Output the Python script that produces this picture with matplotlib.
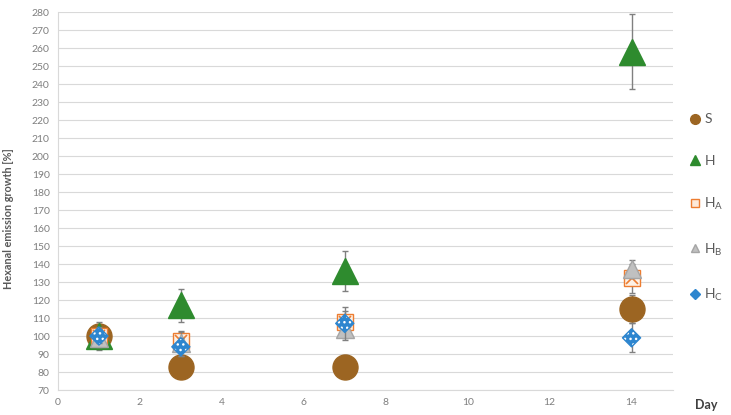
import matplotlib
import matplotlib.pyplot as plt
from matplotlib.lines import Line2D

matplotlib.use("agg")
plt.rcParams["font.family"] = ["Lato", "DejaVu Sans"]
plt.rcParams["hatch.linewidth"] = 1.0

days = [1, 3, 7, 14]
s_vals = [100, 83, 83, 115]
s_err = [3, 2, 6.5, 8]
h_vals = [100, 117, 136, 258]
h_err = [8, 9, 11, 21]
ha_vals = [100, 97.5, 108, 132]
ha_err = [5, 5, 6, 8]
hb_vals = [99, 96, 104, 137]
hb_err = [5, 7, 5, 5]
hc_vals = [100, 94, 107, 99]
hc_err = [4, 5, 9, 8]

BROWN = "#9c6522"
GREEN = "#2e8b2e"
ORANGE = "#ed7d31"
GRAY = "#a5a5a5"
BLUE = "#2e86cf"
ERR = "#808080"

fig = plt.figure(figsize=(7.31, 4.15), dpi=100)
ax = fig.add_axes([0.0793, 0.0602, 0.8407, 0.9108])


def errs(vals, err, z):
    ax.errorbar(days, vals, yerr=err, fmt="none", ecolor=ERR, elinewidth=1,
                capsize=2, capthick=1, zorder=z)


# S
errs(s_vals, s_err, 2)
ax.plot(days, s_vals, "o", ms=18, color=BROWN, mec=BROWN, ls="none", zorder=3)
# H
errs(h_vals, h_err, 4)
ax.plot(days, h_vals, "^", ms=19, color=GREEN, mec=GREEN, ls="none", zorder=5)
# H_A  (square with a cross pattern)
errs(ha_vals, ha_err, 6)
ax.plot(days, ha_vals, "s", ms=11, mfc="#fdf1e6", mec=ORANGE, mew=1, ls="none", zorder=7)
ax.plot(days, ha_vals, "x", ms=9, mec=ORANGE, mew=1.2, ls="none", zorder=7.5)
# H_B
errs(hb_vals, hb_err, 8)
ax.plot(days, hb_vals, "^", ms=13, color="#c0c0c0", mec=GRAY, ls="none", zorder=9)
# H_C  (diamond with white dots)
errs(hc_vals, hc_err, 10)
ax.scatter(days, hc_vals, marker="D", s=85, facecolor=BLUE, edgecolor="white",
           hatch="...", linewidth=0, zorder=11)
ax.scatter(days, hc_vals, marker="D", s=85, facecolor="none", edgecolor=BLUE,
           linewidth=1, zorder=12)

ax.set_xlim(0, 15)
ax.set_ylim(70, 280)
ax.set_xticks(range(0, 15, 2))
ax.set_yticks(range(70, 281, 10))
ax.tick_params(length=0, labelsize=7.5, labelcolor="#7f7f7f", pad=6)
ax.grid(axis="y", color="#d9d9d9", lw=0.8)
ax.set_axisbelow(True)
for side in ["top", "right"]:
    ax.spines[side].set_visible(False)
ax.spines["left"].set_color("#d9d9d9")
ax.spines["bottom"].set_color("#d9d9d9")

ax.set_ylabel("Hexanal emission growth [%]", fontsize=7.8, fontweight="bold",
              color="#595959")
ax.yaxis.set_label_coords(-0.072, (390 - 219) / 378)
fig.text(706 / 731, 1 - 405 / 415, "Day", fontsize=9, fontweight="bold",
         color="#404040", ha="center", va="center")

handles = [
    Line2D([], [], marker="o", ls="none", ms=7, color=BROWN),
    Line2D([], [], marker="^", ls="none", ms=7, color=GREEN),
    Line2D([], [], marker="s", ls="none", ms=6, mfc="#fde9d9", mec=ORANGE),
    Line2D([], [], marker="^", ls="none", ms=6, mfc="#c0c0c0", mec=GRAY),
    Line2D([], [], marker="D", ls="none", ms=5, mfc=BLUE, mec=BLUE),
]
labels = ["S", "H", r"H$_\mathregular{A}$", r"H$_\mathregular{B}$", r"H$_\mathregular{C}$"]
leg = fig.legend(handles, labels, loc="upper left", bbox_to_anchor=(0.935, 0.74),
                 frameon=False, fontsize=10, labelspacing=2.1, handlelength=0.8,
                 handletextpad=0.3, borderaxespad=0)
for t in leg.get_texts():
    t.set_color("#595959")

fig.savefig("out.png", dpi=100)
